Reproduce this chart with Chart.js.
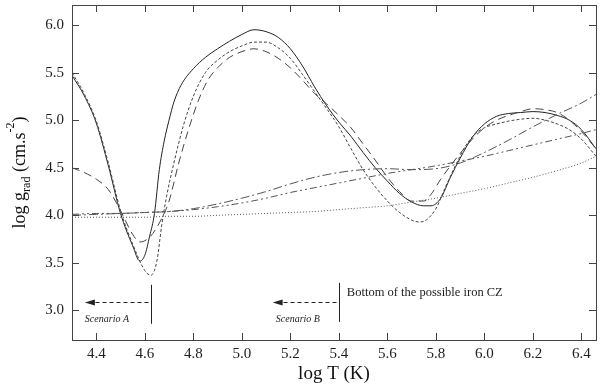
<!DOCTYPE html>
<html>
<head>
<meta charset="utf-8">
<script src="https://cdn.jsdelivr.net/npm/chart.js@4.4.1/dist/chart.umd.min.js"></script>
<style>
  html, body { margin: 0; padding: 0; background: #fff; }
  #wrap { width: 600px; height: 385px; }
</style>
</head>
<body>
<div id="wrap"><canvas id="myChart" width="600" height="385"></canvas></div>
<script>
// Ticks
const X_TICKS = [4.4, 4.6, 4.8, 5.0, 5.2, 5.4, 5.6, 5.8, 6.0, 6.2, 6.4];
const Y_TICKS = [3.0, 3.5, 4.0, 4.5, 5.0, 5.5, 6.0];

// Trait plein
const solidT = [4.30, 4.35, 4.40, 4.45, 4.50, 4.55, 4.58, 4.60, 4.62, 4.64, 4.66, 4.68, 4.70, 4.72, 4.75, 4.80, 4.85, 4.90, 4.95, 5.00, 5.05, 5.10, 5.15, 5.20, 5.25, 5.30, 5.35, 5.40, 5.45, 5.50, 5.55, 5.60, 5.65, 5.70, 5.75, 5.78, 5.82, 5.86, 5.90, 5.95, 6.00, 6.05, 6.10, 6.15, 6.20, 6.25, 6.30, 6.35, 6.40, 6.46];
const solidG = [5.47, 5.26, 4.97, 4.52, 4.02, 3.68, 3.52, 3.58, 3.78, 4.02, 4.48, 4.78, 5.00, 5.19, 5.37, 5.54, 5.66, 5.75, 5.83, 5.90, 5.95, 5.93, 5.87, 5.75, 5.57, 5.35, 5.15, 4.98, 4.83, 4.66, 4.50, 4.36, 4.23, 4.14, 4.10, 4.10, 4.18, 4.40, 4.60, 4.82, 4.96, 5.04, 5.07, 5.08, 5.09, 5.08, 5.05, 5.00, 4.90, 4.70];

// Tirets courts
const shortT = [4.30, 4.35, 4.40, 4.45, 4.50, 4.55, 4.60, 4.625, 4.65, 4.67, 4.69, 4.72, 4.76, 4.80, 4.85, 4.90, 4.95, 5.00, 5.05, 5.10, 5.15, 5.20, 5.25, 5.30, 5.35, 5.40, 5.45, 5.50, 5.55, 5.60, 5.65, 5.70, 5.73, 5.76, 5.80, 5.84, 5.88, 5.92, 5.96, 6.00, 6.05, 6.10, 6.15, 6.20, 6.25, 6.30, 6.35, 6.40, 6.46];
const shortG = [5.50, 5.28, 4.99, 4.55, 4.05, 3.70, 3.42, 3.37, 3.52, 3.90, 4.20, 4.55, 4.95, 5.25, 5.50, 5.63, 5.72, 5.78, 5.82, 5.82, 5.76, 5.65, 5.48, 5.30, 5.12, 4.93, 4.70, 4.48, 4.30, 4.15, 4.03, 3.95, 3.93, 3.95, 4.07, 4.30, 4.52, 4.72, 4.85, 4.92, 4.96, 4.99, 5.01, 5.02, 5.00, 4.96, 4.90, 4.80, 4.62];

// Tirets longs
const longT = [4.30, 4.35, 4.40, 4.45, 4.50, 4.55, 4.58, 4.62, 4.66, 4.70, 4.74, 4.78, 4.82, 4.86, 4.90, 4.95, 5.00, 5.05, 5.10, 5.15, 5.20, 5.25, 5.30, 5.35, 5.40, 5.45, 5.50, 5.55, 5.60, 5.65, 5.70, 5.75, 5.78, 5.82, 5.86, 5.90, 5.95, 6.00, 6.05, 6.10, 6.15, 6.20, 6.25, 6.30, 6.35, 6.40, 6.46];
const longG = [4.50, 4.45, 4.38, 4.27, 4.05, 3.80, 3.72, 3.77, 3.92, 4.15, 4.55, 4.90, 5.20, 5.42, 5.55, 5.66, 5.72, 5.75, 5.72, 5.65, 5.55, 5.42, 5.28, 5.17, 5.05, 4.92, 4.75, 4.58, 4.40, 4.25, 4.15, 4.15, 4.22, 4.38, 4.52, 4.65, 4.80, 4.92, 5.00, 5.05, 5.09, 5.12, 5.11, 5.08, 5.00, 4.88, 4.70];

// Tiret-point (plateau puis montée)
const dashDotT = [4.30, 4.40, 4.50, 4.60, 4.70, 4.80, 4.90, 5.00, 5.10, 5.20, 5.30, 5.40, 5.50, 5.60, 5.70, 5.80, 5.90, 6.00, 6.10, 6.20, 6.30, 6.40, 6.46];
const dashDotG = [4.00, 4.01, 4.02, 4.03, 4.04, 4.07, 4.12, 4.18, 4.25, 4.33, 4.40, 4.45, 4.48, 4.49, 4.48, 4.49, 4.55, 4.66, 4.79, 4.93, 5.06, 5.18, 5.27];

// Tiret-point-point (montée régulière)
const dashDot2T = [4.30, 4.40, 4.50, 4.60, 4.70, 4.80, 4.90, 5.00, 5.10, 5.20, 5.30, 5.40, 5.50, 5.60, 5.70, 5.80, 5.90, 6.00, 6.10, 6.20, 6.30, 6.40, 6.46];
const dashDot2G = [4.01, 4.02, 4.02, 4.03, 4.04, 4.06, 4.09, 4.13, 4.18, 4.24, 4.29, 4.34, 4.39, 4.44, 4.48, 4.52, 4.57, 4.62, 4.68, 4.74, 4.80, 4.86, 4.90];

// Pointillés
const dotT = [4.30, 4.40, 4.50, 4.60, 4.70, 4.80, 4.90, 5.00, 5.10, 5.20, 5.30, 5.40, 5.50, 5.60, 5.70, 5.80, 5.90, 6.00, 6.10, 6.20, 6.30, 6.40, 6.46];
const dotG = [3.98, 3.98, 3.98, 3.98, 3.99, 3.99, 4.00, 4.01, 4.02, 4.03, 4.04, 4.06, 4.08, 4.10, 4.14, 4.18, 4.23, 4.28, 4.34, 4.40, 4.47, 4.55, 4.62];

// Scénarios (coordonnées en données)
const scenarioNames = ['Scenario A', 'Scenario B'];
const scenarioT = [4.627, 5.40];
const scenarioTop = [3.27, 3.29];
const scenarioBottom = [2.86, 2.88];
const arrowTipT = [4.353, 5.127];
const arrowG = 3.09;
const scenarioTextT = [4.353, 5.14];
const scenarioTextG = 2.874;
const noteText = 'Bottom of the possible iron CZ';
const noteT = 5.433;
const noteG = 3.157;

function pts(xs, ys) {
    return xs.map((x, i) => ({ x: x, y: ys[i] }));
}

const serif = '"Liberation Serif", "DejaVu Serif", serif';

// Cadre, graduations internes, annotations et titres
const framePlugin = {
    id: 'framePlugin',
    afterDraw(chart) {
        const { ctx, chartArea: a, scales: { x, y } } = chart;
        ctx.save();
        ctx.strokeStyle = '#444';
        ctx.lineWidth = 1;
        ctx.setLineDash([]);
        ctx.strokeRect(Math.round(a.left) + 0.5, Math.round(a.top) + 0.5,
            Math.round(a.right - a.left), Math.round(a.bottom - a.top));

        const tl = 7;
        ctx.beginPath();
        X_TICKS.forEach(v => {
            const px = Math.round(x.getPixelForValue(v)) + 0.5;
            ctx.moveTo(px, a.bottom); ctx.lineTo(px, a.bottom - tl);
            ctx.moveTo(px, a.top); ctx.lineTo(px, a.top + tl);
        });
        Y_TICKS.forEach(v => {
            const py = Math.round(y.getPixelForValue(v)) + 0.5;
            ctx.moveTo(a.left, py); ctx.lineTo(a.left + tl, py);
            ctx.moveTo(a.right, py); ctx.lineTo(a.right - tl, py);
        });
        ctx.stroke();

        // Scénarios
        ctx.strokeStyle = '#222';
        ctx.fillStyle = '#222';
        scenarioT.forEach((t, i) => {
            const px = Math.round(x.getPixelForValue(t)) + 0.5;
            ctx.setLineDash([]);
            ctx.beginPath();
            ctx.moveTo(px, y.getPixelForValue(scenarioTop[i]));
            ctx.lineTo(px, y.getPixelForValue(scenarioBottom[i]));
            ctx.stroke();

            const py = Math.round(y.getPixelForValue(arrowG)) + 0.5;
            const tip = x.getPixelForValue(arrowTipT[i]);
            ctx.setLineDash([4, 3]);
            ctx.beginPath();
            ctx.moveTo(px - 3, py);
            ctx.lineTo(tip + 8, py);
            ctx.stroke();
            ctx.setLineDash([]);
            ctx.beginPath();
            ctx.moveTo(tip, py);
            ctx.lineTo(tip + 10, py - 3);
            ctx.lineTo(tip + 10, py + 3);
            ctx.closePath();
            ctx.fill();

            ctx.font = 'italic 10px ' + serif;
            ctx.textAlign = 'left';
            ctx.textBaseline = 'alphabetic';
            ctx.fillText(scenarioNames[i], x.getPixelForValue(scenarioTextT[i]), y.getPixelForValue(scenarioTextG));
        });
        ctx.font = '12.5px ' + serif;
        ctx.fillText(noteText, x.getPixelForValue(noteT), y.getPixelForValue(noteG));

        // Titre de l'axe x
        ctx.font = '19px ' + serif;
        ctx.textAlign = 'center';
        ctx.fillStyle = '#111';
        ctx.fillText('log T (K)', (a.left + a.right) / 2, 379);

        // Titre de l'axe y avec indice et exposant
        const parts = [
            { t: 'log g', f: '18px ' + serif, dy: 0 },
            { t: 'rad', f: '12px ' + serif, dy: 5 },
            { t: ' (cm.s', f: '18px ' + serif, dy: 0 },
            { t: '-2', f: '12px ' + serif, dy: -11 },
            { t: ')', f: '18px ' + serif, dy: 0 }
        ];
        let total = 0;
        parts.forEach(p => { ctx.font = p.f; p.w = ctx.measureText(p.t).width; total += p.w; });
        ctx.translate(25, (a.top + a.bottom) / 2);
        ctx.rotate(-Math.PI / 2);
        ctx.textAlign = 'left';
        let cx = -total / 2;
        parts.forEach(p => {
            ctx.font = p.f;
            ctx.fillText(p.t, cx, p.dy);
            cx += p.w;
        });
        ctx.restore();
    }
};

const ctx = document.getElementById('myChart').getContext('2d');

const chart = new Chart(ctx, {
    type: 'line',
    data: {
        datasets: [
            { data: pts(dotT, dotG), borderColor: '#555', borderWidth: 1, borderDash: [1, 2] },
            { data: pts(dashDot2T, dashDot2G), borderColor: '#555', borderWidth: 1, borderDash: [7, 3, 2, 3, 2, 3] },
            { data: pts(dashDotT, dashDotG), borderColor: '#555', borderWidth: 1, borderDash: [9, 3, 2, 3] },
            { data: pts(longT, longG), borderColor: '#444', borderWidth: 1, borderDash: [8, 5] },
            { data: pts(shortT, shortG), borderColor: '#444', borderWidth: 1, borderDash: [3, 2] },
            { data: pts(solidT, solidG), borderColor: '#222', borderWidth: 1 }
        ]
    },
    options: {
        responsive: false,
        animation: false,
        layout: { padding: { top: 5, right: 4, left: 0, bottom: 0 } },
        elements: {
            point: { radius: 0 },
            line: { tension: 0.4, cubicInterpolationMode: 'monotone', fill: false }
        },
        plugins: {
            legend: { display: false },
            tooltip: { enabled: false }
        },
        scales: {
            x: {
                type: 'linear',
                min: 4.3,
                max: 6.46,
                grid: { display: false, drawTicks: false },
                border: { display: false },
                afterBuildTicks: s => { s.ticks = X_TICKS.map(v => ({ value: v })); },
                afterFit: s => { s.height = 45; s.paddingLeft = 0; s.paddingRight = 0; },
                ticks: {
                    padding: 5,
                    color: '#222',
                    font: { family: serif, size: 15 },
                    callback: v => v.toFixed(1)
                }
            },
            y: {
                type: 'linear',
                min: 2.69,
                max: 6.21,
                grid: { display: false, drawTicks: false },
                border: { display: false },
                afterBuildTicks: s => { s.ticks = Y_TICKS.map(v => ({ value: v })); },
                afterFit: s => { s.width = 72; s.paddingTop = 0; s.paddingBottom = 0; },
                ticks: {
                    padding: 8,
                    color: '#222',
                    font: { family: serif, size: 15 },
                    callback: v => v.toFixed(1)
                }
            }
        }
    },
    plugins: [framePlugin]
});
</script>
</body>
</html>
